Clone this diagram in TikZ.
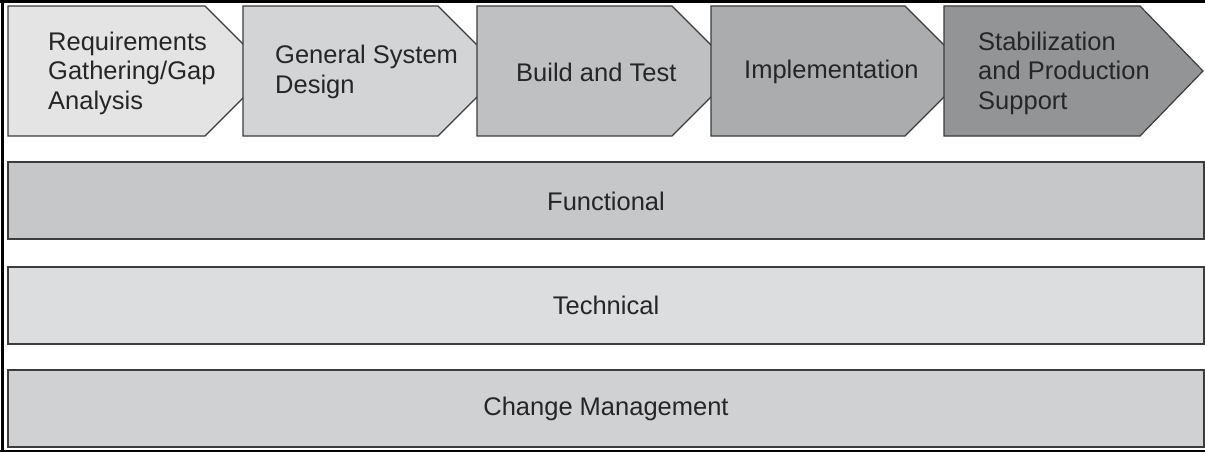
\documentclass[tikz,border=0pt]{standalone}
\usepackage{fontspec}
\setmainfont{Liberation Sans}
\definecolor{edge}{HTML}{3C3C3C}
\definecolor{txt}{HTML}{262626}
\definecolor{cA}{HTML}{E4E4E4}
\definecolor{cB}{HTML}{D3D4D6}
\definecolor{cC}{HTML}{BFC0C2}
\definecolor{cD}{HTML}{ABACAE}
\definecolor{cE}{HTML}{939496}
\definecolor{barF}{HTML}{C6C7C9}
\definecolor{barT}{HTML}{DCDDDF}
\definecolor{barC}{HTML}{D0D1D3}
\begin{document}
\begin{tikzpicture}[x=1pt,y=-1pt,
  chev/.style={draw=edge,line width=1.2pt,line join=miter},
  lbl/.style={anchor=west,align=left,text=txt,inner sep=0pt,
    font=\fontsize{25.5}{29.5}\selectfont},
  barbox/.style={draw=edge,line width=1.5pt},
  barlbl/.style={text=txt,inner sep=0pt,font=\fontsize{25.5}{29.5}\selectfont}]
\useasboundingbox (0,0) rectangle (1205,452);
\fill[white] (0,0) rectangle (1205,452);
% chevrons
\path[chev,fill=cA] (8,6) -- (205,6) -- (270,71) -- (205,136) -- (8,136) -- cycle;
\path[chev,fill=cB] (243,6) -- (438,6) -- (503,71) -- (438,136) -- (243,136) -- cycle;
\path[chev,fill=cC] (477,6) -- (672,6) -- (737,71) -- (672,136) -- (477,136) -- cycle;
\path[chev,fill=cD] (711,6) -- (905,6) -- (970,71) -- (905,136) -- (711,136) -- cycle;
\path[chev,fill=cE] (944,6) -- (1140,6) -- (1203,71) -- (1140,136) -- (944,136) -- cycle;
\node[lbl] (req) at (48,73) {Requirements\\Gathering/Gap\\Analysis};
\node[lbl] (gsd) at (275,72) {General System\\Design};
\node[lbl] (bat) at (516,72) {Build and Test};
\node[lbl] (imp) at (744,72) {Implementation};
\node[lbl] (stab) at (978,73) {Stabilization\\and Production\\Support};
% bars
\path[barbox,fill=barF] (8,162) rectangle (1204,239);
\path[barbox,fill=barT] (8,267) rectangle (1204,344);
\path[barbox,fill=barC] (8,370) rectangle (1204,447);
\node[barlbl] (fun) at (606,201) {Functional};
\node[barlbl] (tec) at (606,305) {Technical};
\node[barlbl] (chm) at (606,409) {Change Management};
% frame
\draw[black,line width=3pt] (0,2) -- (1205,2);
\draw[black,line width=3pt] (2.5,0) -- (2.5,452);
\draw[black,line width=1.2pt] (0,451) -- (1205,451);
\end{tikzpicture}
\end{document}
